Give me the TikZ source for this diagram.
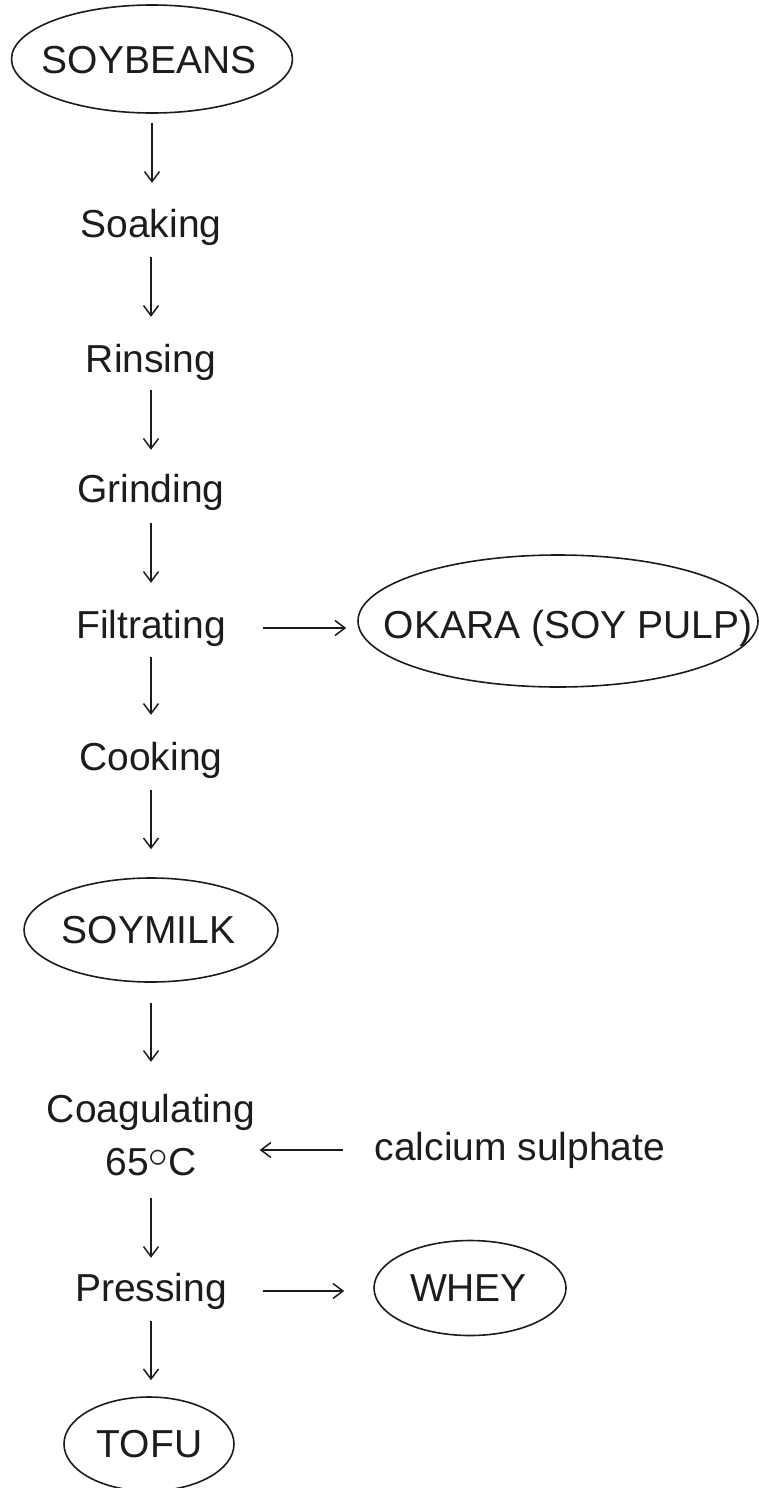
\RequirePackage{fix-cm}
\documentclass[tikz,border=0pt]{standalone}
\usepackage{fontspec}
\setmainfont{Liberation Sans}
\usetikzlibrary{arrows.meta,shapes.geometric}
\definecolor{ink}{HTML}{1C1C1C}
\begin{document}
\begin{tikzpicture}[x=1pt,y=-1pt,
  oval/.style={draw=ink, ellipse, inner sep=0pt, line width=1.6pt},
  lbl/.style={anchor=base, inner sep=0pt, text height=28pt, text depth=8pt,
              text=ink, font=\fontsize{39}{47}\selectfont},
  flow/.style={draw=ink, -{Straight Barb[length=10pt,width=15pt]}, line width=1.5pt}]
\useasboundingbox (0,0) rectangle (759,1488);

% main column
\node[oval, minimum width=281pt, minimum height=108pt] (soybeans) at (152,59) {};
\node[lbl] (soybeansT) at (149,74) {SOYBEANS};
\node[lbl] (soaking) at (151,237) {Soaking};
\node[lbl] (rinsing) at (151,372) {Rinsing};
\node[lbl] (grinding) at (151,502) {Grinding};
\node[lbl] (filtrating) at (151,638) {Filtrating};
\node[lbl] (cooking) at (151,770) {Cooking};
\node[oval, minimum width=254pt, minimum height=104pt] (soymilk) at (151,930) {};
\node[lbl] (soymilkT) at (148.5,943) {SOYMILK};
\node[lbl] (coag) at (151,1122) {Coagulating};
\node[lbl] (temp) at (151,1175) {65\raisebox{0.18em}{$\circ$}C};
\node[lbl] (pressing) at (151,1301) {Pressing};
\node[oval, minimum width=170pt, minimum height=94pt] (tofu) at (149,1444) {};
\node[lbl] (tofuT) at (149.5,1457) {TOFU};

% side branches
\node[oval, minimum width=400pt, minimum height=132pt] (okara) at (558,621) {};
\node[lbl] (okaraT) at (568,638) {OKARA (SOY PULP)};
\node[lbl] (calcium) at (520,1160) {calcium sulphate};
\node[oval, minimum width=192pt, minimum height=95pt] (whey) at (470,1288) {};
\node[lbl] (wheyT) at (468.5,1301) {WHEY};

% vertical flow
\draw[flow, shorten <=9pt, shorten >=26pt] (soybeans.south) -- (soybeans.south |- soaking.north);
\draw[flow, shorten <=12pt, shorten >=27pt] (soaking.south) -- (rinsing.north);
\draw[flow, shorten <=10pt, shorten >=24pt] (rinsing.south) -- (grinding.north);
\draw[flow, shorten <=13pt, shorten >=27pt] (grinding.south) -- (filtrating.north);
\draw[flow, shorten <=11pt, shorten >=27pt] (filtrating.south) -- (cooking.north);
\draw[flow, shorten <=12pt, shorten >=28pt] (cooking.south) -- (soymilk.north);
\draw[flow, shorten <=20pt, shorten >=32pt] (soymilk.south) -- (coag.north);
\draw[flow, shorten <=15pt, shorten >=15pt] (temp.south) -- (pressing.north);
\draw[flow, shorten <=12pt, shorten >=16pt] (pressing.south) -- (pressing.south |- tofu.north);

% horizontal flow
\draw[flow, shorten <=37pt, shorten >=11pt] (filtrating.east) -- (filtrating.east -| okara.west);
\draw[flow, shorten <=32pt, shorten >=63pt] (calcium.west) -- (calcium.west -| temp.east);
\draw[flow, shorten <=36pt, shorten >=29pt] (pressing.east) -- (pressing.east -| whey.west);
\end{tikzpicture}
\end{document}
